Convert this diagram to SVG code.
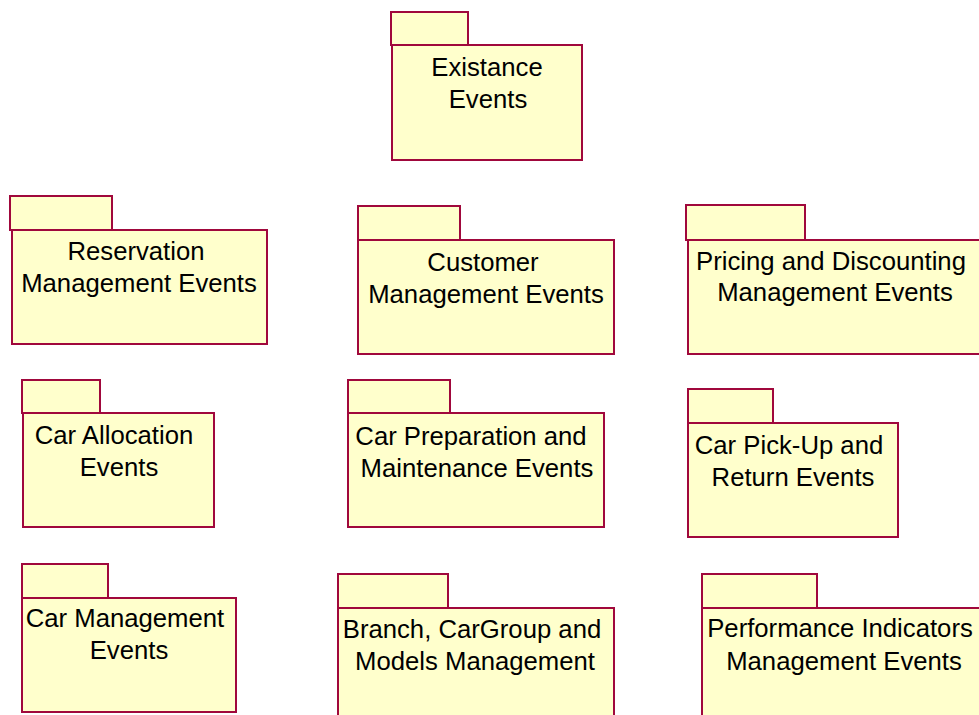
<svg xmlns="http://www.w3.org/2000/svg" width="979" height="715" viewBox="0 0 979 715">
  <style>
    .pkg rect { fill: #FFFFCC; stroke: #A0083C; stroke-width: 2; }
    .pkg text { font-family: "Liberation Sans", Arial, sans-serif; font-size: 25.7px; fill: #000; text-anchor: middle; }
  </style>
  <rect width="979" height="715" fill="#FFFFFF"/>

  <g id="existance-events" class="pkg">
    <rect x="391" y="12" width="77" height="33"/>
    <rect x="392" y="45" width="190" height="115"/>
    <text x="487" y="76">Existance</text>
    <text x="488" y="108">Events</text>
  </g>

  <g id="reservation-management-events" class="pkg">
    <rect x="10" y="196" width="102" height="34"/>
    <rect x="12" y="230" width="255" height="114"/>
    <text x="136" y="260">Reservation</text>
    <text x="139" y="292">Management Events</text>
  </g>

  <g id="customer-management-events" class="pkg">
    <rect x="358" y="206" width="102" height="34"/>
    <rect x="358" y="240" width="256" height="114"/>
    <text x="483" y="271">Customer</text>
    <text x="486" y="303">Management Events</text>
  </g>

  <g id="pricing-discounting-management-events" class="pkg">
    <rect x="686" y="205" width="119" height="35"/>
    <rect x="688" y="240" width="300" height="114"/>
    <text x="831" y="270">Pricing and Discounting</text>
    <text x="835" y="301">Management Events</text>
  </g>

  <g id="car-allocation-events" class="pkg">
    <rect x="22" y="380" width="78" height="33"/>
    <rect x="23" y="413" width="191" height="114"/>
    <text x="114" y="444">Car Allocation</text>
    <text x="119" y="476">Events</text>
  </g>

  <g id="car-preparation-maintenance-events" class="pkg">
    <rect x="348" y="380" width="102" height="33"/>
    <rect x="348" y="413" width="256" height="114"/>
    <text x="471" y="445">Car Preparation and</text>
    <text x="477" y="477">Maintenance Events</text>
  </g>

  <g id="car-pickup-return-events" class="pkg">
    <rect x="688" y="389" width="85" height="34"/>
    <rect x="688" y="423" width="210" height="114"/>
    <text x="789" y="454">Car Pick-Up and</text>
    <text x="793" y="486">Return Events</text>
  </g>

  <g id="car-management-events" class="pkg">
    <rect x="22" y="564" width="86" height="34"/>
    <rect x="22" y="598" width="214" height="114"/>
    <text x="125" y="627">Car Management</text>
    <text x="129" y="659">Events</text>
  </g>

  <g id="branch-cargroup-models-management" class="pkg">
    <rect x="338" y="574" width="110" height="34"/>
    <rect x="338" y="608" width="276" height="120"/>
    <text x="472" y="638">Branch, CarGroup and</text>
    <text x="475" y="670">Models Management</text>
  </g>

  <g id="performance-indicators-management-events" class="pkg">
    <rect x="702" y="574" width="115" height="34"/>
    <rect x="702" y="608" width="290" height="120"/>
    <text x="840" y="637">Performance Indicators</text>
    <text x="844" y="670">Management Events</text>
  </g>

  <g id="connectors"/>
</svg>
